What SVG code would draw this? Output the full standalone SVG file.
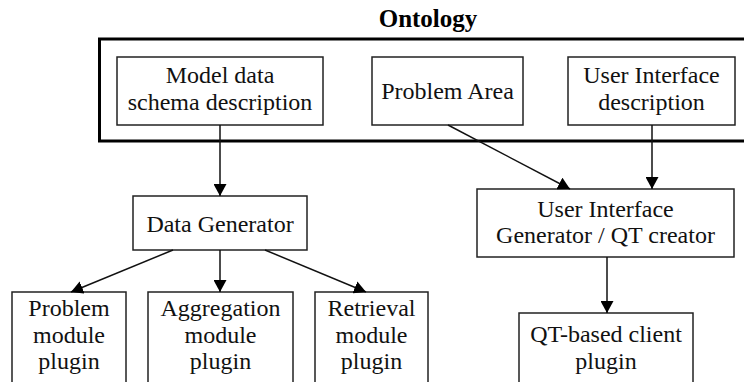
<svg xmlns="http://www.w3.org/2000/svg" width="744" height="382" viewBox="0 0 744 382">
  <style>
    .box { fill: #ffffff; stroke: #222222; stroke-width: 1.5; }
    .outer { fill: none; stroke: #000000; stroke-width: 3; }
    .lbl { font-family: "Liberation Serif", "Times New Roman", serif; font-size: 24px; fill: #111111; text-anchor: middle; }
    .title { font-family: "Liberation Serif", "Times New Roman", serif; font-size: 25px; font-weight: bold; fill: #000000; text-anchor: middle; }
    .conn { fill: none; stroke: #111111; stroke-width: 1.5; }
  </style>
  <defs>
    <marker id="arrow" markerUnits="userSpaceOnUse" markerWidth="13" markerHeight="13" refX="12" refY="6.5" orient="auto">
      <path d="M0,0 L12,6.5 L0,13 z" fill="#000000"/>
    </marker>
  </defs>
  <rect width="744" height="382" fill="#ffffff"/>

  <g id="ontology">
    <text class="title" x="428" y="27">Ontology</text>
    <rect class="outer" x="99.5" y="39" width="660" height="102"/>
  </g>

  <g id="model-data">
    <rect class="box" x="117" y="57" width="206" height="68"/>
    <text class="lbl" x="220" y="83">Model data</text>
    <text class="lbl" x="220" y="110">schema description</text>
  </g>

  <g id="problem-area">
    <rect class="box" x="372" y="57" width="151" height="68"/>
    <text class="lbl" x="447.5" y="99">Problem Area</text>
  </g>

  <g id="ui-description">
    <rect class="box" x="568" y="57" width="167" height="68"/>
    <text class="lbl" x="651.5" y="83">User Interface</text>
    <text class="lbl" x="651.5" y="110">description</text>
  </g>

  <g id="data-generator">
    <rect class="box" x="133" y="196" width="174" height="54"/>
    <text class="lbl" x="220" y="232">Data Generator</text>
  </g>

  <g id="ui-generator">
    <rect class="box" x="477" y="189" width="257" height="68"/>
    <text class="lbl" x="605.5" y="217">User Interface</text>
    <text class="lbl" x="605.5" y="243">Generator / QT creator</text>
  </g>

  <g id="problem-module">
    <rect class="box" x="12" y="292" width="114" height="110"/>
    <text class="lbl" x="69" y="316">Problem</text>
    <text class="lbl" x="69" y="343">module</text>
    <text class="lbl" x="69" y="369">plugin</text>
  </g>

  <g id="aggregation-module">
    <rect class="box" x="148" y="292" width="145" height="110"/>
    <text class="lbl" x="220.5" y="316">Aggregation</text>
    <text class="lbl" x="220.5" y="343">module</text>
    <text class="lbl" x="220.5" y="369">plugin</text>
  </g>

  <g id="retrieval-module">
    <rect class="box" x="315" y="292" width="113" height="110"/>
    <text class="lbl" x="371.5" y="316">Retrieval</text>
    <text class="lbl" x="371.5" y="343">module</text>
    <text class="lbl" x="371.5" y="369">plugin</text>
  </g>

  <g id="qt-client">
    <rect class="box" x="519" y="313" width="174" height="90"/>
    <text class="lbl" x="606" y="342">QT-based client</text>
    <text class="lbl" x="606" y="369">plugin</text>
  </g>

  <g id="connectors">
    <line class="conn" x1="220" y1="125" x2="220" y2="196" marker-end="url(#arrow)"/>
    <line class="conn" x1="448" y1="125" x2="570" y2="189" marker-end="url(#arrow)"/>
    <line class="conn" x1="652" y1="125" x2="652" y2="189" marker-end="url(#arrow)"/>
    <line class="conn" x1="173" y1="250" x2="71" y2="292" marker-end="url(#arrow)"/>
    <line class="conn" x1="220" y1="250" x2="220" y2="292" marker-end="url(#arrow)"/>
    <line class="conn" x1="265" y1="250" x2="366" y2="292" marker-end="url(#arrow)"/>
    <line class="conn" x1="607" y1="257" x2="607" y2="313" marker-end="url(#arrow)"/>
  </g>
</svg>
